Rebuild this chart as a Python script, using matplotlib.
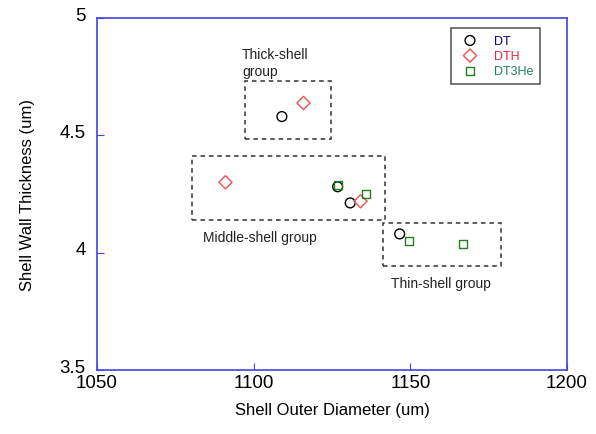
import matplotlib
matplotlib.use('Agg')
import matplotlib.pyplot as plt
import matplotlib.transforms as mtransforms
from matplotlib.patches import Rectangle

plt.rcParams['font.family'] = ['Liberation Sans', 'DejaVu Sans']

# shell data (outer diameter, wall thickness)
dt_x    = [1109.0, 1126.8, 1130.8, 1146.6]
dt_y    = [4.580, 4.281, 4.212, 4.080]
dth_x   = [1115.9, 1091.0, 1134.1]
dth_y   = [4.638, 4.300, 4.219]
dt3he_x = [1126.8, 1135.9, 1149.7, 1166.7]
dt3he_y = [4.288, 4.251, 4.051, 4.037]

# group boxes: (x0, x1, y0, y1)
group_names = ['Thick-shell\ngroup', 'Middle-shell group', 'Thin-shell group']
group_boxes = [(1097.1, 1124.7, 4.484, 4.730),
               (1080.4, 1142.0, 4.141, 4.411),
               (1141.4, 1178.9, 3.942, 4.127)]
label_pos   = [(1096.3, 4.876), (1083.8, 4.068), (1143.8, 3.872)]
label_va    = ['top', 'center', 'center']

fig = plt.figure(figsize=(5.96, 4.35), dpi=100)
ax = fig.add_axes([0.1628, 0.1471, 0.7885, 0.8092])

ax.scatter(dt_x, dt_y, s=50, facecolors='none', edgecolors='black', linewidths=1.0, marker='o', label='DT', zorder=3)
ax.scatter(dth_x, dth_y, s=45, facecolors='none', edgecolors='#f05050', linewidths=1.0, marker='D', label='DTH', zorder=3)
ax.scatter(dt3he_x, dt3he_y, s=32, facecolors='none', edgecolors='#208020', linewidths=1.0, marker='s', label='DT3He', zorder=3)

for (x0, x1, y0, y1) in group_boxes:
  ax.add_patch(Rectangle((x0, y0), x1 - x0, y1 - y0, fill=False, ls=(0, (3, 2.5)), lw=1.1, ec='#333333'))
for name, (tx, ty), va in zip(group_names, label_pos, label_va):
  ax.text(tx, ty, name, fontsize=10, color='#222222', ha='left', va=va, linespacing=1.25)

ax.set_xlim(1050, 1200)
ax.set_ylim(3.5, 5)
ax.set_xticks([1050, 1100, 1150, 1200])
ax.set_yticks([3.5, 4, 4.5, 5])
ax.set_yticklabels(['3.5', '4', '4.5', '5'])
ax.tick_params(direction='in', length=5, color='#4444dd', labelsize=13.5)
ax.tick_params(axis='y', pad=8)
ax.tick_params(axis='x', pad=3)
for sp in ax.spines.values():
  sp.set_color('#4444dd')
  sp.set_linewidth(1.2)

# y tick labels sit a bit above their ticks
up = mtransforms.ScaledTranslation(0, 5 / 100, fig.dpi_scale_trans)
for lab in ax.get_yticklabels():
  lab.set_transform(lab.get_transform() + up)

ax.set_xlabel('Shell Outer Diameter (um)', fontsize=12, labelpad=8)
ax.set_ylabel('Shell Wall Thickness (um)', fontsize=12, labelpad=18)

leg = ax.legend(loc='upper right', bbox_to_anchor=(0.9426, 0.972), fontsize=9, frameon=True,
                fancybox=False, edgecolor='#333333', handletextpad=0.9, borderpad=0.55,
                labelspacing=0.25, handlelength=2.0, borderaxespad=0, markerscale=1.0)
leg.get_frame().set_linewidth(1.2)
for txt, c in zip(leg.get_texts(), ['#000080', '#ee2040', '#208060']):
  txt.set_color(c)

plt.savefig('out.png', dpi=100)
plt.close()
